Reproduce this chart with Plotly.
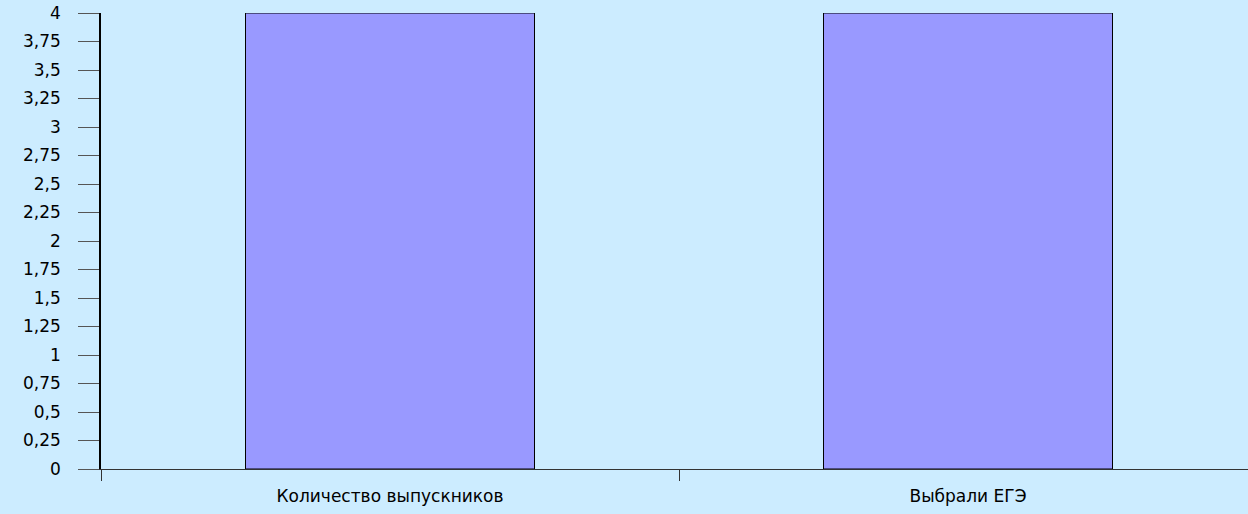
import plotly.graph_objects as go

categories = ["Количество выпускников", "Выбрали ЕГЭ"]
values = [4, 4]
ytick_vals = [0, 0.25, 0.5, 0.75, 1, 1.25, 1.5, 1.75, 2, 2.25, 2.5, 2.75, 3, 3.25, 3.5, 3.75, 4]
ytick_text = ["0", "0,25", "0,5", "0,75", "1", "1,25", "1,5", "1,75", "2", "2,25", "2,5", "2,75", "3", "3,25", "3,5", "3,75", "4"]

fig = go.Figure(go.Bar(
    x=categories, y=values, width=0.5,
    marker=dict(color="#9999FF", line=dict(color="#000000", width=1)),
))

fig.update_layout(
    width=1248, height=514,
    paper_bgcolor="#CCECFF", plot_bgcolor="#CCECFF",
    margin=dict(l=101, r=0, t=13, b=45),
    font=dict(family="DejaVu Sans, Arial, sans-serif", size=16, color="#000000"),
    showlegend=False,
)
fig.update_xaxes(
    type="category", range=[-0.5, 1.4844],
    showline=True, linecolor="#333333", linewidth=1,
    ticks="outside", tickson="boundaries", ticklen=11, tickcolor="#333333",
    showgrid=False, tickfont=dict(size=17), ticklabelstandoff=12,
)
fig.update_yaxes(
    range=[0, 4], tickvals=ytick_vals, ticktext=ytick_text,
    showline=True, linecolor="#000000", linewidth=1.5,
    ticks="outside", ticklen=21, tickcolor="#555555",
    showgrid=False, zeroline=False, tickfont=dict(size=17),
    ticklabelstandoff=14,
)

fig.write_html(
    "out.html",
    config={"displayModeBar": False},
    post_script="document.body.style.margin='0';document.body.style.background='#CCECFF';",
)
